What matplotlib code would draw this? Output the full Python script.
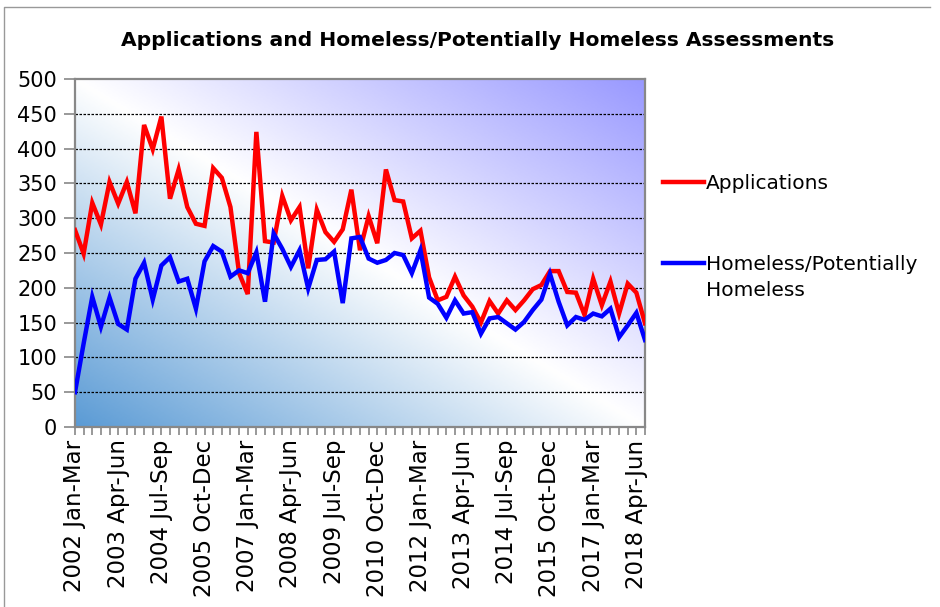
import numpy as np
import matplotlib
matplotlib.use("Agg")
import matplotlib.pyplot as plt
from matplotlib.colors import LinearSegmentedColormap
from matplotlib.lines import Line2D

# quarterly figures, 2002 Jan-Mar .. 2018 Jul-Sep
years = list(range(2002, 2019))
quarter_names = ["Jan-Mar", "Apr-Jun", "Jul-Sep", "Oct-Dec"]

applications = [283, 249, 322, 291, 352, 321, 352, 307, 434, 399,
                446, 328, 370, 316, 292, 289, 372, 358, 316, 221,
                191, 424, 267, 265, 332, 297, 316, 228, 312, 280,
                266, 284, 341, 254, 303, 264, 370, 326, 324, 271,
                282, 215, 182, 187, 216, 189, 173, 150, 181, 163,
                182, 168, 182, 198, 204, 224, 224, 194, 193, 161,
                213, 175, 209, 163, 206, 193, 149]

homeless = [50, 120, 187, 144, 186, 148, 140, 213, 236, 183,
            232, 244, 209, 213, 170, 238, 260, 252, 216, 225,
            221, 251, 180, 278, 256, 230, 254, 199, 240, 241,
            252, 178, 271, 273, 242, 236, 240, 250, 247, 221,
            254, 186, 177, 157, 182, 163, 165, 134, 156, 158,
            149, 140, 151, 168, 183, 220, 180, 146, 158, 154,
            163, 159, 170, 129, 146, 164, 125]

quarters = [f"{y} {q}" for y in years for q in quarter_names][:len(applications)]

plt.rcParams["font.family"] = "DejaVu Sans"

fig = plt.figure(figsize=(9.4, 6.07), dpi=100)
fig.patch.set_facecolor("white")
ax = fig.add_axes([75 / 940, 1 - 427 / 607, 570 / 940, 348 / 607])

x = np.arange(len(applications))
xmax = len(applications) - 1

# diagonal gradient: blue bottom-left -> white -> periwinkle top-right
cmap = LinearSegmentedColormap.from_list(
    "bg", [(0.0, "#5b9bd5"), (0.5, "#ffffff"), (1.0, "#9999ff")])
u, v = np.meshgrid(np.linspace(0, 1, 300), np.linspace(0, 1, 200))
grad = (u + v) / 2
ax.imshow(grad, cmap=cmap, origin="lower", aspect="auto",
          extent=[0, xmax, 0, 500], zorder=0, interpolation="bilinear")

ax.set_xlim(0, xmax)
ax.set_ylim(0, 500)

for yv in range(50, 500, 50):
    ax.axhline(yv, color="black", lw=0.9, ls=(0, (2, 1.2)), zorder=1)

ax.plot(x, applications, color="#ff0000", lw=3.2, zorder=3,
        solid_joinstyle="miter")
ax.plot(x, homeless, color="#0000ff", lw=3.2, zorder=3,
        solid_joinstyle="miter")

for s in ax.spines.values():
    s.set_color("#888888")
    s.set_linewidth(1.6)

ax.set_yticks(range(0, 501, 50))
ax.tick_params(axis="y", colors="#888888", labelcolor="black",
               length=8, width=1.2, pad=5, labelsize=15)
ax.set_xticks(x, minor=True)
ax.set_xticks(x[::5])
ax.set_xticklabels(quarters[::5], rotation=90, fontsize=16.5)
ax.tick_params(axis="x", which="both", colors="#888888", labelcolor="black",
               length=6, width=1.2)
ax.tick_params(axis="x", which="major", pad=3)

fig.text(478 / 940, 1 - 40 / 607,
         "Applications and Homeless/Potentially Homeless Assessments",
         ha="center", va="center", fontsize=14.6, fontweight="bold")

# legend
leg_items = [("#ff0000", "Applications", 182),
             ("#0000ff", "Homeless/Potentially\nHomeless", 263)]
for col, lab, yp in leg_items:
    fig.add_artist(Line2D([663 / 940, 704 / 940], [1 - yp / 607] * 2,
                          color=col, lw=3.2, transform=fig.transFigure))
    fig.text(706 / 940, 1 - yp / 607 + 0.0125, lab, ha="left", va="top",
             fontsize=14.5, linespacing=1.45)

# outer frame
fig.add_artist(Line2D([4 / 940, 4 / 940, 930 / 940],
                      [0, 1 - 7 / 607, 1 - 7 / 607],
                      color="#999999", lw=1.0, transform=fig.transFigure))

fig.savefig("out.png", dpi=100)
